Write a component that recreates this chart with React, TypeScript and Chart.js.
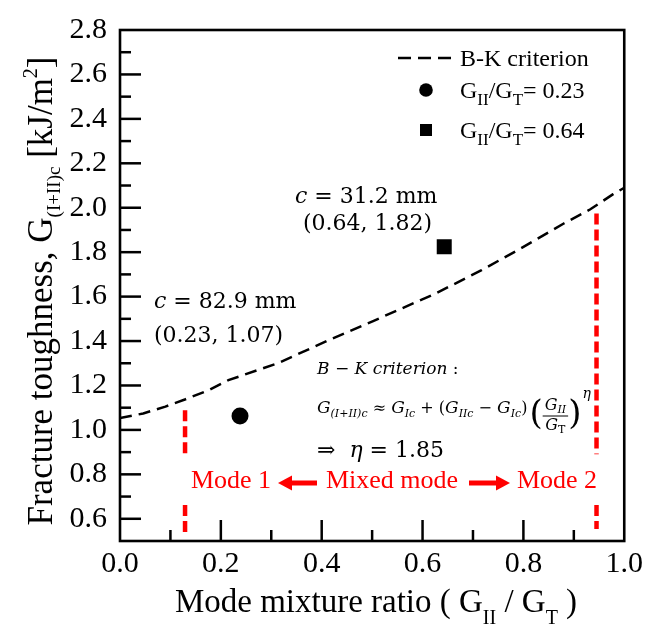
import React, { useEffect, useRef } from 'react';
import { Chart, registerables } from 'chart.js';

Chart.register(...registerables);

// B-K criterion curve
const bkRatio = [0, 0.046, 0.09, 0.13, 0.176, 0.215, 0.313, 0.41, 0.502, 0.626, 0.717, 0.795, 0.88, 0.932, 0.978, 1.0];
const bkToughness = [1.053, 1.074, 1.105, 1.138, 1.179, 1.224, 1.3, 1.4, 1.49, 1.614, 1.719, 1.817, 1.929, 1.992, 2.061, 2.09];

// Test points
const circleRatio = [0.238];
const circleToughness = [1.063];
const squareRatio = [0.643];
const squareToughness = [1.824];

// Mode boundary (red dashed) lines
const boundaryRatio = [0.129, 0.945];
const boundaryTop = [1.089, 1.974];
const boundaryGapTop = [0.873, 0.89];
const boundaryGapBottom = [0.662, 0.662];
const boundaryBottom = [0.54, 0.554];

// Axis ranges
const xMin = 0;
const xMax = 1.0;
const yMin = 0.5;
const yMax = 2.8;
const tickStep = 0.1;

const SERIF = "'Liberation Serif', 'Times New Roman', serif";
const MATH = "'DejaVu Serif', serif";

type Seg = { t: string; size: number; dy?: number; italic?: boolean; family?: string };

function segFont(s: Seg, fam: string) {
  return `${s.italic ? 'italic ' : ''}${s.size}px ${s.family || fam}`;
}
function richWidth(ctx: CanvasRenderingContext2D, segs: Seg[], fam: string) {
  let w = 0;
  for (const s of segs) {
    ctx.font = segFont(s, fam);
    w += ctx.measureText(s.t).width;
  }
  return w;
}
function drawRich(ctx: CanvasRenderingContext2D, x: number, y: number, segs: Seg[], fam: string, align: 'left' | 'center' = 'left') {
  let cx = x;
  if (align === 'center') cx = x - richWidth(ctx, segs, fam) / 2;
  ctx.textAlign = 'left';
  ctx.textBaseline = 'alphabetic';
  for (const s of segs) {
    ctx.font = segFont(s, fam);
    ctx.fillText(s.t, cx, y + (s.dy || 0));
    cx += ctx.measureText(s.t).width;
  }
  return cx;
}

function arrow(ctx: CanvasRenderingContext2D, x1: number, x2: number, y: number) {
  const dir = x2 > x1 ? 1 : -1;
  const head = 14;
  ctx.beginPath();
  ctx.lineWidth = 5;
  ctx.moveTo(x1, y);
  ctx.lineTo(x2 - dir * head, y);
  ctx.stroke();
  ctx.beginPath();
  ctx.moveTo(x2, y);
  ctx.lineTo(x2 - dir * head, y - 7.5);
  ctx.lineTo(x2 - dir * head, y + 7.5);
  ctx.closePath();
  ctx.fill();
}

const decorPlugin = {
  id: 'decor',
  afterDraw(chart: any) {
    const ctx: CanvasRenderingContext2D = chart.ctx;
    const a = chart.chartArea;
    const xs = chart.scales.x;
    const ys = chart.scales.y;
    ctx.save();
    ctx.strokeStyle = '#000';
    ctx.fillStyle = '#000';
    ctx.setLineDash([]);

    // inner ticks
    ctx.lineWidth = 2.5;
    ys.ticks.forEach((t: any) => {
      const v = t.value;
      if (v <= yMin + 1e-9 || v >= yMax - 1e-9) return;
      const major = Math.round(v * 10) % 2 === 0;
      const py = ys.getPixelForValue(v);
      ctx.beginPath();
      ctx.moveTo(a.left, py);
      ctx.lineTo(a.left + (major ? 21 : 11), py);
      ctx.stroke();
    });
    xs.ticks.forEach((t: any) => {
      const v = t.value;
      if (v <= xMin + 1e-9 || v >= xMax - 1e-9) return;
      const major = Math.round(v * 10) % 2 === 0;
      const px = xs.getPixelForValue(v);
      ctx.beginPath();
      ctx.moveTo(px, a.bottom);
      ctx.lineTo(px, a.bottom - (major ? 21 : 11));
      ctx.stroke();
    });

    // frame
    ctx.lineWidth = 2.6;
    ctx.strokeRect(a.left, a.top, a.right - a.left, a.bottom - a.top);

    // y title
    ctx.save();
    ctx.translate(52, 291);
    ctx.rotate(-Math.PI / 2);
    drawRich(ctx, 0, 0, [
      { t: 'Fracture toughness, G', size: 35 },
      { t: '(I+II)c', size: 19, dy: 8 },
      { t: ' [kJ/m', size: 35 },
      { t: '2', size: 20, dy: -15 },
      { t: ']', size: 35 },
    ], SERIF, 'center');
    ctx.restore();

    // x title
    drawRich(ctx, 376, 612, [
      { t: 'Mode mixture ratio ( G', size: 33 },
      { t: 'II', size: 20, dy: 12 },
      { t: ' / G', size: 33 },
      { t: 'T', size: 20, dy: 12 },
      { t: ' )', size: 33 },
    ], SERIF, 'center');

    // legend
    ctx.save();
    ctx.lineWidth = 2.5;
    ctx.setLineDash([13, 7]);
    ctx.beginPath();
    ctx.moveTo(398, 58);
    ctx.lineTo(452, 58);
    ctx.stroke();
    ctx.restore();
    drawRich(ctx, 460, 66, [{ t: 'B-K criterion', size: 24 }], SERIF);
    ctx.beginPath();
    ctx.arc(426, 90, 6.8, 0, Math.PI * 2);
    ctx.fill();
    drawRich(ctx, 460, 98, [
      { t: 'G', size: 24 },
      { t: 'II', size: 17, dy: 7 },
      { t: '/G', size: 24 },
      { t: 'T', size: 17, dy: 7 },
      { t: '= 0.23', size: 24 },
    ], SERIF);
    ctx.fillRect(420, 124, 12, 12);
    drawRich(ctx, 460, 138, [
      { t: 'G', size: 24 },
      { t: 'II', size: 17, dy: 7 },
      { t: '/G', size: 24 },
      { t: 'T', size: 17, dy: 7 },
      { t: '= 0.64', size: 24 },
    ], SERIF);

    // point annotations
    drawRich(ctx, 295, 203, [{ t: 'c', size: 22, italic: true }, { t: ' = 31.2 mm', size: 22 }], MATH);
    drawRich(ctx, 303, 230, [{ t: '(0.64, 1.82)', size: 22 }], MATH);
    drawRich(ctx, 154, 308, [{ t: 'c', size: 22, italic: true }, { t: ' = 82.9 mm', size: 22 }], MATH);
    drawRich(ctx, 154, 342, [{ t: '(0.23, 1.07)', size: 22 }], MATH);

    // formula block
    drawRich(ctx, 317, 374, [
      { t: 'B', size: 17, italic: true },
      { t: ' − ', size: 17 },
      { t: 'K criterion', size: 17, italic: true },
      { t: ' :', size: 17 },
    ], MATH);
    let fx = drawRich(ctx, 317, 413, [
      { t: 'G', size: 17, italic: true },
      { t: '(I+II)c', size: 11, italic: true, dy: 4 },
      { t: ' ≈ ', size: 16 },
      { t: 'G', size: 17, italic: true },
      { t: 'Ic', size: 11, italic: true, dy: 4 },
      { t: ' + (', size: 16 },
      { t: 'G', size: 17, italic: true },
      { t: 'IIc', size: 11, italic: true, dy: 4 },
      { t: ' − ', size: 16 },
      { t: 'G', size: 17, italic: true },
      { t: 'Ic', size: 11, italic: true, dy: 4 },
      { t: ')', size: 16 },
    ], MATH);
    fx += 2;
    fx = drawRich(ctx, fx, 424, [{ t: '(', size: 34, family: MATH }], MATH);
    const numW = richWidth(ctx, [{ t: 'G', size: 16, italic: true }, { t: 'II', size: 11, italic: true }], MATH);
    const fracW = numW + 4;
    drawRich(ctx, fx + fracW / 2, 410, [{ t: 'G', size: 16, italic: true }, { t: 'II', size: 11, italic: true, dy: 3 }], MATH, 'center');
    ctx.lineWidth = 1;
    ctx.beginPath();
    ctx.moveTo(fx, 416);
    ctx.lineTo(fx + fracW, 416);
    ctx.stroke();
    drawRich(ctx, fx + fracW / 2, 430, [{ t: 'G', size: 16, italic: true }, { t: 'T', size: 11, italic: false, dy: 3 }], MATH, 'center');
    fx = drawRich(ctx, fx + fracW, 424, [{ t: ')', size: 34 }], MATH);
    drawRich(ctx, fx + 1, 398, [{ t: 'η', size: 14, italic: true }], MATH);

    drawRich(ctx, 317, 457, [
      { t: '⇒  ', size: 22 },
      { t: 'η', size: 22, italic: true },
      { t: ' = 1.85', size: 22 },
    ], MATH);

    // mode labels
    ctx.fillStyle = '#ff0000';
    ctx.strokeStyle = '#ff0000';
    drawRich(ctx, 231, 488, [{ t: 'Mode 1', size: 26 }], SERIF, 'center');
    drawRich(ctx, 392, 488, [{ t: 'Mixed mode', size: 26 }], SERIF, 'center');
    drawRich(ctx, 557, 488, [{ t: 'Mode 2', size: 26 }], SERIF, 'center');
    arrow(ctx, 317, 278, 483);
    arrow(ctx, 469, 510, 483);

    ctx.restore();
  },
};

function boundaryData(i: number) {
  return [
    { x: boundaryRatio[i], y: boundaryTop[i] },
    { x: boundaryRatio[i], y: boundaryGapTop[i] },
    { x: boundaryRatio[i], y: null },
    { x: boundaryRatio[i], y: boundaryGapBottom[i] },
    { x: boundaryRatio[i], y: boundaryBottom[i] },
  ];
}

export default function App() {
  const ref = useRef<HTMLCanvasElement>(null);
  useEffect(() => {
    if (!ref.current) return;
    const chart = new Chart(ref.current, {
      type: 'scatter',
      data: {
        datasets: [
          {
            label: 'B-K criterion',
            data: bkRatio.map((x, i) => ({ x, y: bkToughness[i] })),
            showLine: true,
            borderColor: '#000',
            borderWidth: 2.5,
            borderDash: [12, 7],
            pointRadius: 0,
            tension: 0,
          },
          {
            label: 'GII/GT = 0.23',
            data: circleRatio.map((x, i) => ({ x, y: circleToughness[i] })),
            pointStyle: 'circle',
            pointRadius: 8.5,
            backgroundColor: '#000',
            borderColor: '#000',
            borderWidth: 0,
          },
          {
            label: 'GII/GT = 0.64',
            data: squareRatio.map((x, i) => ({ x, y: squareToughness[i] })),
            pointStyle: 'rect',
            pointRadius: 10.6,
            backgroundColor: '#000',
            borderColor: '#000',
            borderWidth: 0,
          },
          ...[0, 1].map((i) => ({
            label: 'boundary' + i,
            data: boundaryData(i),
            showLine: true,
            spanGaps: false,
            borderColor: '#ff0000',
            borderWidth: 4.5,
            borderDash: [11, 5],
            pointRadius: 0,
          })),
        ] as any,
      },
      options: {
        responsive: false,
        animation: false,
        layout: { padding: { left: 0, top: 30, right: 19.5, bottom: 0 } },
        plugins: { legend: { display: false }, tooltip: { enabled: false } },
        scales: {
          x: {
            type: 'linear',
            min: xMin,
            max: xMax,
            afterFit: (s: any) => { s.height = 83; },
            grid: { display: false, drawTicks: false },
            border: { display: false },
            ticks: {
              stepSize: tickStep,
              autoSkip: false,
              maxRotation: 0,
              padding: 8,
              color: '#000',
              font: { family: SERIF, size: 30, lineHeight: 1 },
              callback: (v: any) => (Math.round(Number(v) * 10) % 2 === 0 ? Number(v).toFixed(1) : ''),
            },
          },
          y: {
            type: 'linear',
            min: yMin,
            max: yMax,
            afterFit: (s: any) => { s.width = 120; },
            grid: { display: false, drawTicks: false },
            border: { display: false },
            ticks: {
              stepSize: tickStep,
              autoSkip: false,
              padding: 13,
              color: '#000',
              font: { family: SERIF, size: 30, lineHeight: 1 },
              callback: (v: any) => (Math.round(Number(v) * 10) % 2 === 0 ? Number(v).toFixed(1) : ''),
            },
          },
        },
      } as any,
      plugins: [decorPlugin],
    });
    return () => chart.destroy();
  }, []);
  return (
    <canvas
      ref={ref}
      width={651}
      height={624}
      style={{ position: 'absolute', left: 0, top: 0, width: 651, height: 624, background: '#fff' }}
    />
  );
}
